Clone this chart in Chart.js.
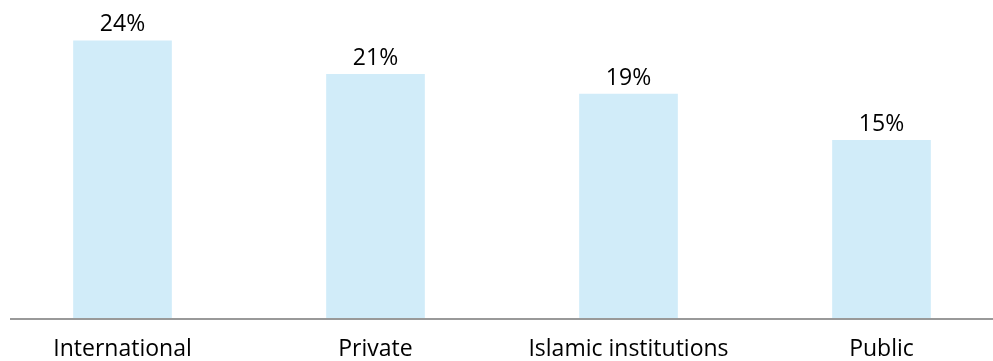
<!DOCTYPE html>
<html lang="en">
<head>
    <meta charset="UTF-8">
    <script src="https://cdn.jsdelivr.net/npm/chart.js"></script>
    <title>Chart</title>
    <style>
        html, body { margin: 0; padding: 0; background: #fff; overflow: hidden; }
        .grafico { position: absolute; left: -4px; top: 0; width: 1012px; height: 361px; }
    </style>
</head>
<body>
    <div class="grafico">
        <canvas id="myChart"></canvas>
    </div>

<script>
    const categorias = ['International', 'Private', 'Islamic institutions', 'Public'];
    const valores = [24.0, 21.1, 19.4, 15.4];
    const rotulos = ['24%', '21%', '19%', '15%'];

    const fonte = "'Open Sans', sans-serif";

    // rótulos acima das barras + linha de base
    const extras = {
        id: 'extras',
        afterDatasetsDraw(chart) {
            const ctx = chart.ctx;
            const area = chart.chartArea;
            ctx.save();
            ctx.strokeStyle = '#999999';
            ctx.lineWidth = 2;
            ctx.beginPath();
            ctx.moveTo(14, area.bottom + 1);
            ctx.lineTo(chart.width, area.bottom + 1);
            ctx.stroke();

            ctx.fillStyle = '#000000';
            ctx.font = '23px ' + fonte;
            ctx.textAlign = 'center';
            ctx.textBaseline = 'alphabetic';
            chart.getDatasetMeta(0).data.forEach(function (bar, i) {
                ctx.fillText(rotulos[i], bar.x, bar.y - 9);
            });
            ctx.restore();
        }
    };

    const data = {
        labels: categorias,
        datasets: [{
            data: valores,
            backgroundColor: '#D1ECF9',
            borderWidth: 0,
            barPercentage: 0.39,
            categoryPercentage: 1
        }]
    };

    const config = {
        type: 'bar',
        data: data,
        options: {
            responsive: true,
            maintainAspectRatio: false,
            animation: false,
            layout: { padding: 0 },
            plugins: { legend: { display: false }, tooltip: { enabled: false } },
            scales: {
                x: {
                    grid: { display: false, drawTicks: false },
                    border: { display: false },
                    ticks: {
                        color: '#000000',
                        padding: 18,
                        maxRotation: 0,
                        autoSkip: false,
                        font: { family: fonte, size: 23 }
                    },
                    afterFit: function (scale) { scale.height = 43; }
                },
                y: {
                    display: false,
                    min: 0,
                    max: 27.5
                }
            }
        },
        plugins: [extras]
    };

    const myChart = new Chart(document.getElementById('myChart'), config);
</script>
</body>
</html>
